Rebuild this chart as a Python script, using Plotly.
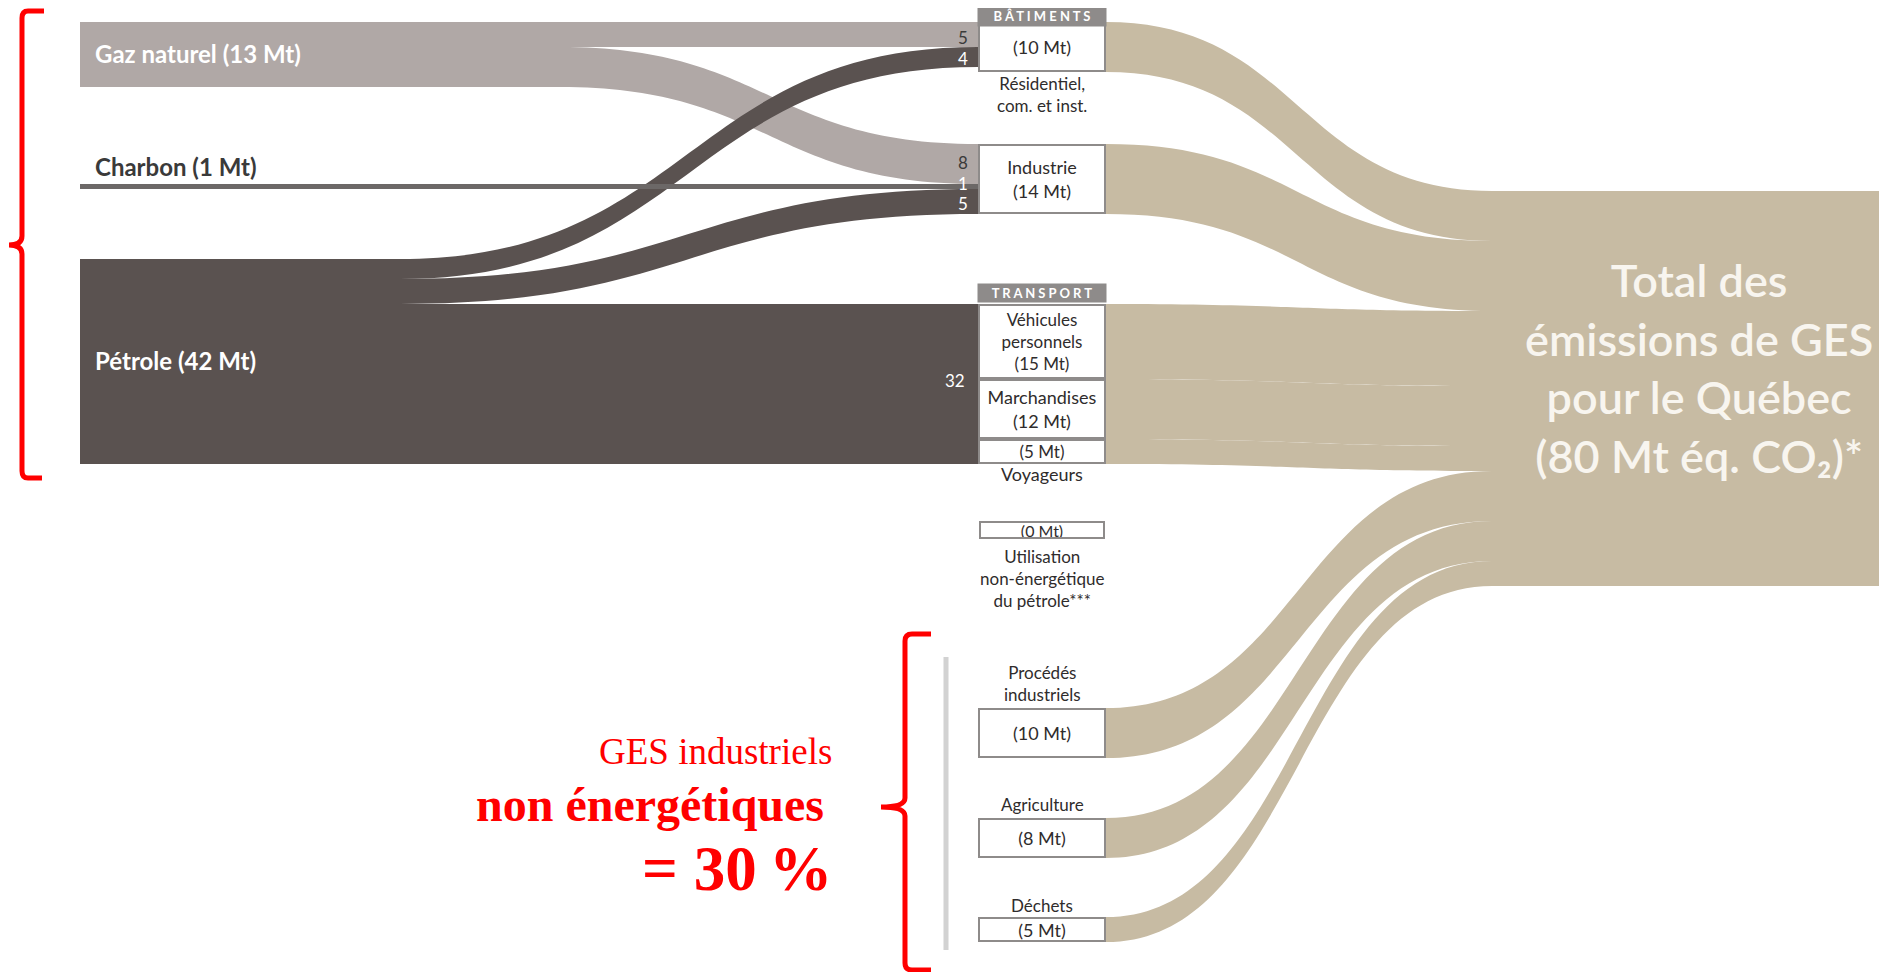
import plotly.graph_objects as go

W, H = 1887, 980          # browser window
OFF = 8                   # default body margin of the html page
FW, FH = W - 2 * OFF, H - 2 * OFF
K = 5.0  # pixels per Mt

# ---- data (Mt éq. CO2) ----
sources = ["Gaz naturel", "Charbon", "Pétrole"]
source_mt = [13, 1, 42]

flow_src = ["Gaz naturel", "Gaz naturel", "Charbon", "Pétrole", "Pétrole",
            "Pétrole", "Pétrole", "Pétrole"]
flow_dst = ["Bâtiments", "Industrie", "Industrie", "Bâtiments", "Industrie",
            "Véhicules personnels", "Marchandises", "Voyageurs"]
flow_mt = [5, 8, 1, 4, 5, 15, 12, 5]

sectors = ["Bâtiments", "Industrie", "Véhicules personnels", "Marchandises",
           "Voyageurs", "Procédés industriels", "Agriculture", "Déchets"]
sector_mt = [10, 14, 15, 12, 5, 10, 8, 5]
non_energy_mt = 0
total_mt = 80

GAZ = "#b0a8a6"
CHARBON = "#6c6867"
PETROLE = "#5a5250"
TAN = "#c7bba3"
BOX = "#8e8b8a"
TXT = "#2f2c2c"


def X(px):
    return (px - OFF) / FW


def Y(py):
    return 1 - (py - OFF) / FH


# ---- node layout (screen pixel anchors) ----
node_w = 128
x_src, x_mid = 80 + node_w / 2, 978 + node_w / 2
relay_x = {"Gaz naturel": 560 - node_w / 2, "Pétrole": 400 - node_w / 2}
x_tot, x_end = 1492 + node_w / 2, 1880 - node_w / 2

gaz_out = sum(v for s, v in zip(flow_src, flow_mt) if s == "Gaz naturel")
pet_out = sum(v for s, v in zip(flow_src, flow_mt) if s == "Pétrole")
bat_top, ind_top, trans_top, tot_top = 22, 144, 304, 191

mid_y = {}
mid_y["Bâtiments"] = bat_top + K * sector_mt[0] / 2
mid_y["Industrie"] = ind_top + K * sector_mt[1] / 2
acc = trans_top
for name, v in zip(sectors[2:5], sector_mt[2:5]):
    mid_y[name] = acc + K * v / 2
    acc += K * v
mid_y["Procédés industriels"] = 733
mid_y["Agriculture"] = 838
mid_y["Déchets"] = 929.5

pet_to_bat_ind = flow_mt[3] + flow_mt[4]
src_y = {
    "Gaz naturel": bat_top + K * gaz_out / 2,
    "Charbon": ind_top + K * (flow_mt[1] + flow_mt[2] / 2),
    "Pétrole": trans_top - K * pet_to_bat_ind + K * pet_out / 2,
}
src_col = {"Gaz naturel": GAZ, "Charbon": CHARBON, "Pétrole": PETROLE}
relays = {"Gaz naturel": "gaz_relay", "Pétrole": "pet_relay"}
src_out = {"Gaz naturel": gaz_out, "Pétrole": pet_out}

nodes = sources + list(relays.values()) + sectors + ["Total", "total_end"]
idx = {n: i for i, n in enumerate(nodes)}
nx, ny, ncol = [], [], []
for n in nodes:
    if n in sources:
        nx.append(x_src); ny.append(src_y[n]); ncol.append(src_col[n])
    elif n in relays.values():
        s = [k for k, r in relays.items() if r == n][0]
        nx.append(relay_x[s]); ny.append(src_y[s]); ncol.append(src_col[s])
    elif n in sectors:
        nx.append(x_mid); ny.append(mid_y[n]); ncol.append("white")
    else:
        nx.append(x_tot if n == "Total" else x_end)
        ny.append(tot_top + K * sum(sector_mt) / 2)
        ncol.append(TAN)

ls, lt, lv, lc = [], [], [], []
for s in ["Gaz naturel", "Pétrole", "Charbon"]:   # drawing order
    if s in relays:
        ls.append(idx[s]); lt.append(idx[relays[s]]); lv.append(src_out[s]); lc.append(src_col[s])
    for fs, d, v in zip(flow_src, flow_dst, flow_mt):
        if fs == s:
            ls.append(idx[relays.get(s, s)]); lt.append(idx[d]); lv.append(v)
            lc.append(src_col[s])
for s, v in zip(sectors, sector_mt):
    ls.append(idx[s]); lt.append(idx["Total"]); lv.append(v); lc.append(TAN)
ls.append(idx["Total"]); lt.append(idx["total_end"]); lv.append(sum(sector_mt)); lc.append(TAN)

# node.pad sets the value scale of the densest column (column 0)
col0_vals = [gaz_out, flow_mt[2], pet_out] + sector_mt[5:]
pad = (FH - K * sum(col0_vals)) / (len(col0_vals) - 1)

fig = go.Figure(go.Sankey(
    arrangement="fixed",
    hoverinfo="none",
    node=dict(label=nodes, x=[X(v) for v in nx], y=[1 - Y(v) for v in ny],
              pad=pad, thickness=node_w, color=ncol,
              line=dict(color="rgba(0,0,0,0)", width=0), hoverinfo="none"),
    link=dict(source=ls, target=lt, value=lv, color=lc, hoverinfo="none"),
    textfont=dict(color="rgba(0,0,0,0)", size=1),
))


def note(text, x, y, size=18, color=TXT, xanchor="center", family="Lato",
         weight="normal", **kw):
    return dict(text=text, x=X(x), y=Y(y), xref="paper", yref="paper",
                showarrow=False, xanchor=xanchor, yanchor="middle",
                font=dict(family=family, size=size, color=color, weight=weight), **kw)


def boxed(text, name, size=18):
    # outlined label sitting on a sector node, sized from its value
    v = sector_mt[sectors.index(name)]
    return note(text, x_mid, mid_y[name], size, bordercolor=BOX, borderwidth=2,
                width=node_w - 4, height=K * v - 4, borderpad=0)


def header(text, y0, y1):
    return note(" ".join(text), x_mid, (y0 + y1) / 2, size=13, color="white",
                weight="bold", bgcolor=BOX, width=node_w, height=y1 - y0, borderpad=0)


notes = [
    note(f"{sources[0]} ({source_mt[0]} Mt)", 93, 53, 24, "white", "left", weight="bold"),
    note(f"{sources[1]} ({source_mt[1]} Mt)", 93, 167, 24, "#3a3a3a", "left", weight="bold"),
    note(f"{sources[2]} ({source_mt[2]} Mt)", 93, 360, 24, "white", "left", weight="bold"),
    note(str(flow_mt[0]), 970, 37, 17, "#3a3a3a", "right"),
    note(str(flow_mt[3]), 970, 58, 17, "white", "right"),
    note(str(flow_mt[1]), 970, 162, 17, "#3a3a3a", "right"),
    note(str(flow_mt[2]), 970, 183, 17, "white", "right"),
    note(str(flow_mt[4]), 970, 204, 17, "white", "right"),
    note(str(pet_out - pet_to_bat_ind), 967, 381, 17, "white", "right"),
    boxed(f"({sector_mt[0]} Mt)", "Bâtiments"),
    header("BÂTIMENTS", 6, 26),
    note("Résidentiel,<br>com. et inst.", x_mid, 94, 17),
    boxed(f"Industrie<br>({sector_mt[1]} Mt)", "Industrie"),
    header("TRANSPORT", 284, 302),
    boxed(f"Véhicules<br>personnels<br>({sector_mt[2]} Mt)", "Véhicules personnels", 17),
    boxed(f"Marchandises<br>({sector_mt[3]} Mt)", "Marchandises"),
    boxed(f"({sector_mt[4]} Mt)", "Voyageurs", 17),
    note("Voyageurs", x_mid, 474),
    note(f"({non_energy_mt} Mt)", x_mid, 530, 16, bgcolor="white", bordercolor=BOX,
         borderwidth=2, width=node_w - 6, height=14, borderpad=0),
    note("Utilisation<br>non-énergétique<br>du pétrole***", x_mid, 578, 17),
    note("Procédés<br>industriels", x_mid, 683, 17),
    boxed(f"({sector_mt[5]} Mt)", "Procédés industriels"),
    note("Agriculture", x_mid, 804, 17),
    boxed(f"({sector_mt[6]} Mt)", "Agriculture"),
    note("Déchets", x_mid, 905, 17),
    boxed(f"({sector_mt[7]} Mt)", "Déchets"),
    note(f"Total des<br>émissions de GES<br>pour le Québec<br>({total_mt} Mt éq. CO₂)*",
         1699, 368, 45, "#f8f5ef", weight=600),
    note("GES industriels", 834, 751, 37, "red", "right", "Liberation Serif"),
    note("non énergétiques", 826, 804, 48, "red", "right", "Liberation Serif", weight="bold"),
    note("= 30\u2009%", 834, 869, 63, "red", "right", "Liberation Serif", weight="bold"),
]


def path(pts):
    out = []
    for p in pts:
        out.append(p if isinstance(p, str) else f"{X(p[0]):.5f},{Y(p[1]):.5f}")
    return " ".join(out)


bracket1 = path(["M", (44, 11), "L", (28, 11), "Q", (22, 11), (22, 18), "L", (22, 236),
                 "Q", (22, 245), (9, 245), "Q", (22, 245), (22, 254), "L", (22, 471),
                 "Q", (22, 478), (28, 478), "L", (42, 478)])
bracket2 = path(["M", (931, 634), "L", (912, 634), "Q", (905, 634), (905, 641), "L", (905, 798),
                 "Q", (905, 807), (881, 807), "Q", (905, 807), (905, 816), "L", (905, 963),
                 "Q", (905, 970), (912, 970), "L", (931, 970)])

shapes = [
    dict(type="path", path=bracket1, xref="paper", yref="paper",
         line=dict(color="red", width=5)),
    dict(type="path", path=bracket2, xref="paper", yref="paper",
         line=dict(color="red", width=5)),
    dict(type="line", x0=X(946), x1=X(946), y0=Y(657), y1=Y(950),
         xref="paper", yref="paper", line=dict(color="#d2d2d2", width=5)),
]

fig.update_layout(width=FW, height=FH, margin=dict(l=0, r=0, t=0, b=0),
                  paper_bgcolor="white", plot_bgcolor="white",
                  annotations=notes, shapes=shapes, showlegend=False)
fig.write_html("out.html")
